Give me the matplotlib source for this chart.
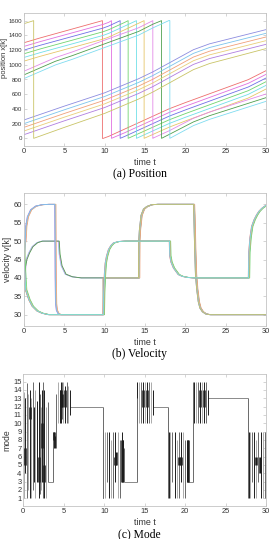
import matplotlib
matplotlib.use('Agg')
import matplotlib.pyplot as plt
from matplotlib import font_manager

# ------------------------------------------------------------------ data
ring_length = 1600

# (a) position: travelled distance of each platoon (read at break points)
pos_top_t = [0, 2, 9.8, 10.5, 12.5, 18, 20, 27.8, 30]
pos_top_d = [0, 65, 299, 327, 427, 702, 786, 1098, 1220]
pos_top_x0 = [1300, 1250, 1200, 1150, 1100, 1050]
pos_top_wrap = [9.72, 10.84, 11.92, 12.91, 13.94, 14.89]
pos_top_col = ['#ee6e6e', '#e070e0', '#7070e6', '#70d470', '#70dfe8', '#e6c66a']

pos_mid_t = [0, 3.9, 6, 14.2, 16, 18, 21, 23, 30]
pos_mid_d = [0, 185, 262, 590, 690, 790, 960, 1045, 1290]
pos_mid_x0 = [913, 863, 813]
pos_mid_wrap = [15.97, 17.05, 18.08]
pos_mid_col = ['#e48ae8', '#4f9f4f', '#7fdcf0']

pos_bot_t = [0, 5, 10, 14.2, 16, 21, 23, 30]
pos_bot_d = [0, 188, 369, 560, 655, 955, 1035, 1228]
pos_bot_x0 = [250, 200, 150, 100, 50]
pos_bot_col = ['#8c8ce0', '#7cc4ec', '#f0a07a', '#e9cf7a', '#b07ee0']

pos_olive_t = [0, 1.2, 5, 10, 14.2, 16, 21, 23, 30]
pos_olive_d = [0, 41, 190, 380, 575, 672, 975, 1058, 1261]
pos_olive_x0 = 1559
pos_olive_wrap = 1.2
pos_olive_col = '#c9c467'

# (b) velocity: reference shapes of each group (t, v)
vel_A_t = [0, 0.17, 0.58, 1.0, 1.6, 2.2, 3.0, 9.8, 9.85, 9.95, 10.05, 10.2, 10.45,
           10.75, 11.07, 11.7, 12.5, 18.0, 18.05, 18.2, 18.5, 19.1, 19.6, 20.3, 21.0,
           27.8, 27.85, 28.0, 28.2, 28.5, 28.8, 29.1, 29.45, 30.0]
vel_A_v = [None, 36.8, 34.1, 32.3, 31.0, 30.4, 30.0, 30.0, 36, 41, 44, 45.8, 47.7,
           48.8, 49.5, 49.9, 50, 50, 46, 44.3, 42.7, 40.9, 40.4, 40.1, 40,
           40, 47, 51, 54, 55.8, 57.1, 58.1, 58.9, 59.8]
vel_A_init = [47, 43, 39, 50, 45, 41]
vel_A_lag = [0.0, 0.06, 0.12, 0.18, 0.03, 0.09]

vel_B_t = [0, 0.25, 0.58, 1.0, 1.6, 2.2, 4.25, 4.35, 4.6, 5.1, 5.9, 7.0]
vel_B_v = [None, 45, 46.8, 48.5, 49.6, 50, 50, 46.5, 43.3, 41, 40.3, 40]
vel_B_init = [36, 41, 33]
vel_B_lag = [0.05, 0.12, 0.0]

vel_C_t = [0, 0.1, 0.2, 0.4, 0.8, 1.4, 2.2, 3.0, 3.8, 3.85, 3.9, 4.0, 4.2, 4.5, 9.8, 9.8]
vel_C_v = [None, 50, 54, 56.6, 58.5, 59.5, 59.9, 60, 60, 40, 33, 31.2, 30.3, 30, 30, 40]
vel_C_init = [44, 38, 48, 35, 42]
vel_C_lag = [0.1, 0.04, 0.16, 0.07, 0.0]

vel_olive_t = [0, 0.17, 0.58, 1.0, 1.6, 2.2, 3.0, 9.8, 9.8]
vel_olive_v = [40, 36.8, 34.1, 32.3, 31.0, 30.4, 30.0, 30.0, 40]

vel_Y_t = [14.2, 14.22, 14.3, 14.5, 14.8, 15.2, 15.8, 16.5, 21.0, 21.05, 21.15,
           21.25, 21.4, 21.6, 21.8, 22.1, 22.5, 23.0, 30.0]
vel_Y_v = [40, 50, 53, 57, 58.7, 59.4, 59.9, 60, 60, 57, 48,
           41, 37, 33.5, 31.8, 30.8, 30.2, 30, 30]

# (c) mode
mode_flat_t0 = [3.1, 5.8, 12.4, 16.0, 20.4, 22.8]
mode_flat_t1 = [3.7, 9.8, 14.0, 17.9, 21.0, 27.8]
mode_flat_m = [3, 12, 3, 12, 3, 13]

stroke_t = [0.08, 0.2, 0.45, 0.62, 0.78, 0.95, 1.15, 1.3, 1.42, 1.7, 1.9, 2.05, 2.2,
            2.3, 2.42, 2.6, 2.8, 3.1,
            3.7, 3.8, 3.9, 4.1, 4.35, 4.5, 4.6, 4.75, 4.95, 5.1, 5.15, 5.35, 5.55, 5.75,
            9.8, 9.85, 10.05, 10.3, 10.55, 10.8, 11.1, 11.35, 11.65, 11.9, 12.15, 12.3, 12.4,
            14.0, 14.05, 14.3, 14.55, 14.8, 15.05, 15.3, 15.55, 15.8, 16.0,
            17.9, 17.95, 18.15, 18.4, 18.7, 18.95, 19.2, 19.45, 19.7, 19.95, 20.2, 20.35,
            21.0, 21.05, 21.3, 21.55, 21.8, 22.05, 22.3, 22.55, 22.8,
            27.8, 27.85, 28.05, 28.3, 28.55, 28.8, 29.05, 29.35, 29.6, 29.85]
stroke_lo = [1, 4, 1, 2, 1, 1, 2, 3, 1, 3, 1, 1.5, 2,
             3, 1, 1, 1, 3,
             3, 7, 7, 7, 10, 10, 10, 10.5, 10, 11, 10, 10, 10, 11,
             1, 1, 1, 3, 1, 1, 1, 3, 1, 1, 3, 3, 3,
             3, 10, 10, 10, 10, 10, 10, 10, 10, 11,
             1, 1, 1, 3, 1, 1, 1, 3, 1, 1, 3, 3,
             3, 10, 10, 10, 10, 10, 10, 10, 11,
             1, 1, 1, 3, 1, 1, 3, 1, 1, 1]
stroke_hi = [13.7, 13, 14.8, 13.5, 14, 13, 15, 12, 14, 12.7, 15, 13.5, 12,
             14, 15, 14, 12, 12.5,
             9, 9, 8.5, 13.5, 15, 14, 15, 15, 15, 14, 14.5, 15, 14.5, 14,
             12, 9, 9, 9, 9, 8, 9, 9, 9, 8, 9, 8, 7,
             13, 15, 15, 15, 15, 15, 15, 15, 15, 14,
             12, 9, 9, 9, 9, 8, 9, 9, 9, 8, 8, 8,
             15, 15, 15, 15, 15, 15, 15, 15, 14,
             13, 9, 9, 9, 9, 8, 9, 9, 9, 9]
stroke_shade = [2, 0, 1, 2, 0, 2, 1, 0, 2, 0, 0, 1, 2,
                0, 1, 0, 2, 1,
                1, 0, 0, 1, 2, 0, 0, 1, 2, 0, 0, 1, 2, 0,
                1, 0, 2, 1, 0, 2, 1, 0, 2, 1, 0, 0, 1,
                1, 0, 2, 1, 0, 2, 0, 1, 2, 0,
                1, 0, 2, 1, 0, 2, 1, 0, 2, 1, 0, 0,
                1, 0, 2, 1, 0, 2, 0, 1, 0,
                1, 0, 2, 1, 0, 2, 1, 0, 2, 1]

block_t = [0.2, 0.78, 1.9, 2.3, 2.6, 3.85, 4.6, 4.8, 5.15, 11.3, 11.45, 12.25,
           14.8, 15.3, 19.3, 19.45, 20.3, 21.8, 22.3, 28.8, 29.3]
block_lo = [5, 10.5, 3, 7, 3, 8, 12, 12, 12, 5, 5, 3, 12, 12, 5, 5, 3, 12, 12, 5, 4]
block_hi = [7, 12, 6, 10, 5, 9, 14, 13.5, 14, 6, 6.5, 8, 14, 14, 6, 6, 8, 14, 14, 6, 6]

shade_colors = ['#1c1c1c', '#6a6a6a', '#ababab']

# ------------------------------------------------------------------ helpers
def font_or(name, fallback):
    try:
        font_manager.findfont(name, fallback_to_default=False)
        return name
    except Exception:
        return fallback

SANS = font_or('Liberation Sans', 'DejaVu Sans')
SERIF = font_or('Liberation Serif', 'DejaVu Serif')

def wrapped(ts, ds, x0, tw):
    T, X = [], []
    done = False
    for t, d in zip(ts, ds):
        if not done and t >= tw:
            T += [tw, tw]
            X += [ring_length, 0]
            done = True
        T.append(t)
        X.append(x0 + d - (ring_length if done else 0))
    return T, X

def shifted(ts, lag):
    return [ts[0]] + [t + lag for t in ts[1:]]

W, H = 272, 539
fig = plt.figure(figsize=(W / 100, H / 100), dpi=100)

def ax_at(top, bottom, left=24, right=266):
    return fig.add_axes([left / W, 1 - bottom / H, (right - left) / W, (bottom - top) / H])

TICK = '#333333'
SPINE = '#c4c4c4'

def style(ax, ylabel, yl_x, yl_y=0.5, ytick_size=5.4, ylabel_size=6.2):
    for s in ax.spines.values():
        s.set_color(SPINE)
        s.set_linewidth(0.6)
    ax.tick_params(direction='in', top=True, right=True, length=2, width=0.5,
                   color=SPINE, labelcolor=TICK, labelsize=5.4, pad=1.3)
    for lab in ax.get_yticklabels():
        lab.set_fontfamily(SANS)
        lab.set_fontsize(ytick_size)
    for lab in ax.get_xticklabels():
        lab.set_fontfamily(SANS)
    ax.set_xlim(0, 30)
    ax.set_xticks([0, 5, 10, 15, 20, 25, 30])
    ax.set_xlabel('time t', fontsize=6.4, color=TICK, family=SANS)
    h = ax.get_position().height * H
    ax.xaxis.set_label_coords(0.5, -17 / h)
    ax.xaxis.label.set_va('center')
    ax.set_ylabel(ylabel, fontsize=ylabel_size, color=TICK, family=SANS)
    w = ax.get_position().width * W
    ax.yaxis.set_label_coords(yl_x / w, yl_y)
    ax.yaxis.label.set_va('center')

def caption(ax, text):
    pos = ax.get_position()
    fig.text(0.5 * (pos.x0 + pos.x1) - 5 / W, pos.y0 - 28.5 / H, text,
             ha='center', va='center', fontsize=8.4, family=SERIF, color='black')

# ------------------------------------------------------------------ (a)
axA = ax_at(13.3, 145.7)
LW = 0.6
for x0, tw, c in zip(pos_top_x0, pos_top_wrap, pos_top_col):
    T, X = wrapped(pos_top_t, pos_top_d, x0, tw)
    axA.plot(T, X, color=c, lw=LW)
for x0, tw, c in zip(pos_mid_x0, pos_mid_wrap, pos_mid_col):
    T, X = wrapped(pos_mid_t, pos_mid_d, x0, tw)
    axA.plot(T, X, color=c, lw=LW)
for x0, c in zip(pos_bot_x0, pos_bot_col):
    axA.plot(pos_bot_t, [x0 + d for d in pos_bot_d], color=c, lw=LW)
T, X = wrapped(pos_olive_t, pos_olive_d, pos_olive_x0, pos_olive_wrap)
axA.plot(T, X, color=pos_olive_col, lw=LW)
axA.set_ylim(-100, 1700)
axA.set_yticks(range(0, 1601, 200))
style(axA, 'position x[k]', -19.8, 0.66, ytick_size=4.4, ylabel_size=5.4)
caption(axA, '(a) Position')

# ------------------------------------------------------------------ (b)
axB = ax_at(193.3, 325.7)
order_B = [2, 0, 1]
for i in order_B:
    axB.plot(shifted(vel_B_t + vel_Y_t, vel_B_lag[i]), [vel_B_init[i]] + vel_B_v[1:] + vel_Y_v,
             color=pos_mid_col[i], lw=LW)
order_C = [0, 2, 3, 4, 1]
for i in order_C:
    axB.plot(shifted(vel_C_t + vel_Y_t, vel_C_lag[i]), [vel_C_init[i]] + vel_C_v[1:] + vel_Y_v,
             color=pos_bot_col[i], lw=LW)
axB.plot(vel_olive_t + vel_Y_t, vel_olive_v + vel_Y_v, color=pos_olive_col, lw=LW)
order_A = [0, 1, 2, 3, 5, 4]
for i in order_A:
    axB.plot(shifted(vel_A_t, vel_A_lag[i]), [vel_A_init[i]] + vel_A_v[1:],
             color=pos_top_col[i], lw=LW)
axB.set_ylim(27, 63)
axB.set_yticks([30, 35, 40, 45, 50, 55, 60])
style(axB, 'velocity v[k]', -16)
caption(axB, '(b) Velocity')

# ------------------------------------------------------------------ (c)
axC = ax_at(374, 505.7, left=23.3)
axC.hlines(mode_flat_m, mode_flat_t0, mode_flat_t1, color='#8a8a8a', lw=0.7)
for k in range(3):
    idx = [i for i, s in enumerate(stroke_shade) if s == k]
    axC.vlines([stroke_t[i] for i in idx], [stroke_lo[i] for i in idx],
               [stroke_hi[i] for i in idx], color=shade_colors[k], lw=0.7)
axC.vlines(block_t, block_lo, block_hi, color=shade_colors[0], lw=1.8)
axC.set_ylim(0.1, 15.9)
axC.set_yticks(range(1, 16))
style(axC, 'mode', -16)
caption(axC, '(c) Mode')

fig.savefig('out.png', dpi=100)
